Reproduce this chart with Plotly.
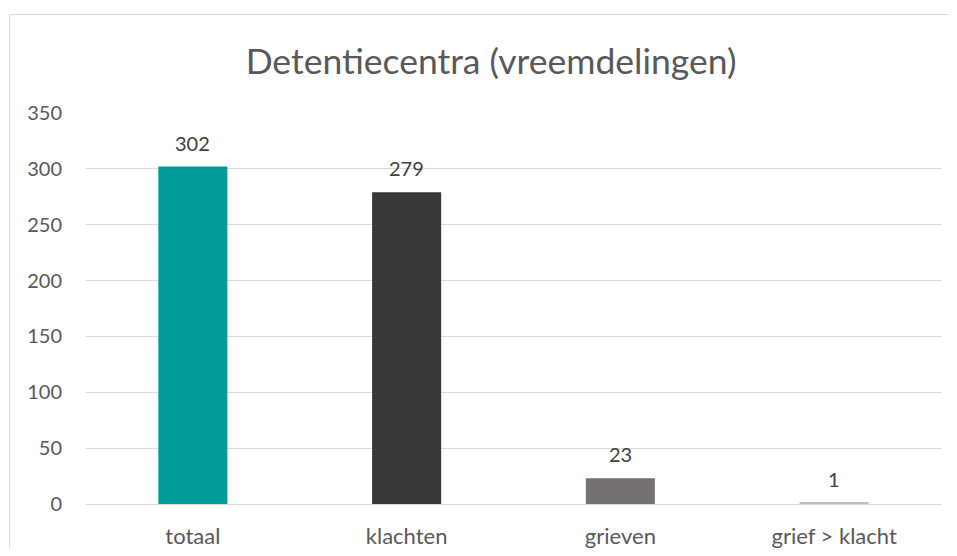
import plotly.graph_objects as go

categories = ["totaal", "klachten", "grieven", "grief > klacht"]
values = [302, 279, 23, 1]
bar_colors = ["#009A97", "#3A3837", "#767171", "#BFBFBF"]
y_ticks = [0, 50, 100, 150, 200, 250, 300, 350]

FONT = "Lato, Carlito, Calibri, sans-serif"
TXT = "#595959"

fig = go.Figure(
    go.Bar(
        x=categories,
        y=values,
        marker=dict(color=bar_colors, line=dict(width=0)),
        width=0.323,
        hoverinfo="skip",
    )
)

# data labels above the bars
for c, v in zip(categories, values):
    fig.add_annotation(
        x=c, y=v, xref="x", yref="y",
        text=str(v), showarrow=False,
        yanchor="bottom", yshift=10,
        font=dict(size=20, color="#404040", family=FONT),
    )

# page body has an 8px margin; size the figure so it fits the window
W, H = 941, 540
L, R, T, B = 78, 8, 105, 44
pw = W - L - R
ph = H - T - B

fig.update_layout(
    width=W,
    height=H,
    margin=dict(l=L, r=R, t=T, b=B, autoexpand=False),
    paper_bgcolor="white",
    plot_bgcolor="white",
    showlegend=False,
    title=dict(
        text="Detentiecentra (vreemdelingen)",
        x=483 / W,
        xanchor="center",
        y=1 - 54 / H,
        yanchor="middle",
        font=dict(size=35.5, color=TXT, family=FONT),
    ),
    font=dict(family=FONT, color=TXT, size=20),
    xaxis=dict(
        showgrid=False,
        showline=False,
        ticks="",
        automargin=False,
        ticklabelstandoff=17,
        tickfont=dict(size=22, color=TXT, family=FONT),
    ),
    yaxis=dict(
        range=[0, 350],
        tickvals=y_ticks,
        showgrid=True,
        gridcolor="#D9D9D9",
        gridwidth=1,
        zeroline=True,
        zerolinecolor="#D9D9D9",
        zerolinewidth=1,
        showline=False,
        ticks="",
        automargin=False,
        ticklabelstandoff=23,
        tickfont=dict(size=20, color=TXT, family=FONT),
    ),
    shapes=[
        dict(
            type="rect",
            xref="paper",
            yref="paper",
            x0=(1.5 - L) / pw,
            x1=(980 - L) / pw,
            y0=-(B + 30) / ph,
            y1=1 + (T - 6.5) / ph,
            line=dict(color="#D9D9D9", width=1),
            fillcolor="rgba(0,0,0,0)",
            layer="below",
        )
    ],
)

fig.write_html("out.html")
